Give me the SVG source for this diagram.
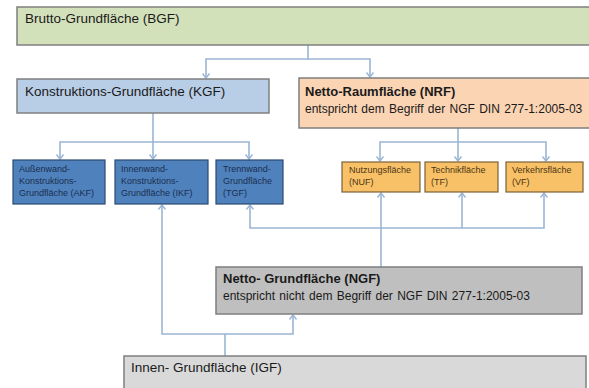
<svg xmlns="http://www.w3.org/2000/svg" width="589" height="388" viewBox="0 0 589 388">
<defs>
<style>
.t{font-family:"Liberation Sans",Arial,sans-serif;fill:#1a1a1a}
.big{font-size:13.5px}
.bold{font-size:13px;font-weight:bold}
.sub{font-size:12px;word-spacing:1px}
.sm{font-size:9px;fill:#1b2f4f}
.smo{font-size:9px;fill:#4a3514}
.box{stroke:#7f7f7f;stroke-width:1.5}
.bl{fill:#4f81bd;stroke:#2c4a70;stroke-width:1.2}
.or{fill:#f9c167;stroke:#7a6238;stroke-width:1.2}
.c{fill:none;stroke:#9ab6d4;stroke-width:1.6}
</style>
<marker id="a" viewBox="-6 -5 8 10" markerWidth="8" markerHeight="10" refX="0" refY="0" orient="auto" markerUnits="userSpaceOnUse">
<path d="M-4.5,-3.5 L0,0 L-4.5,3.5" fill="none" stroke="#9ab6d4" stroke-width="1.4"/>
</marker>
</defs>
<rect width="589" height="388" fill="#ffffff"/>
<g id="connectors">
<path class="c" d="M308,45 V59 H206 V78" marker-end="url(#a)"/>
<path class="c" d="M308,59 H370 V77" marker-end="url(#a)"/>
<path class="c" d="M153,113 V142 H60 V159" marker-end="url(#a)"/>
<path class="c" d="M153,142 V159" marker-end="url(#a)"/>
<path class="c" d="M153,142 H249 V159" marker-end="url(#a)"/>
<path class="c" d="M458,128 V142 H380 V161" marker-end="url(#a)"/>
<path class="c" d="M458,142 V161" marker-end="url(#a)"/>
<path class="c" d="M458,142 H546 V161" marker-end="url(#a)"/>
<path class="c" d="M381,267 V193" marker-end="url(#a)"/>
<path class="c" d="M381,228 H250 V205" marker-end="url(#a)"/>
<path class="c" d="M381,228 H462 V193" marker-end="url(#a)"/>
<path class="c" d="M462,228 H544 V193" marker-end="url(#a)"/>
<path class="c" d="M225,356 V334 H162 V205" marker-end="url(#a)"/>
<path class="c" d="M225,334 H293 V315" marker-end="url(#a)"/>
</g>
<g id="bgf">
<rect class="box" x="17" y="7" width="580" height="38" fill="#d3e1bb"/>
<text class="t big" x="25" y="23">Brutto-Grundfläche (BGF)</text>
</g>
<g id="kgf">
<rect class="box" x="17" y="79" width="252" height="34" fill="#b8cde6"/>
<text class="t big" x="25" y="96">Konstruktions-Grundfläche (KGF)</text>
</g>
<g id="nrf">
<rect class="box" x="299" y="78" width="298" height="50" fill="#fbd4b4"/>
<text class="t bold" x="305" y="96">Netto-Raumfläche (NRF)</text>
<text class="t sub" x="305" y="113">entspricht dem Begriff der NGF DIN 277-1:2005-03</text>
</g>
<g id="akf">
<rect class="bl" x="13" y="160" width="92" height="44"/>
<text class="t sm" x="19" y="172">Außenwand-</text>
<text class="t sm" x="19" y="184">Konstruktions-</text>
<text class="t sm" x="19" y="196">Grundfläche (AKF)</text>
</g>
<g id="ikf">
<rect class="bl" x="115" y="160" width="93" height="44"/>
<text class="t sm" x="121" y="172">Innenwand-</text>
<text class="t sm" x="121" y="184">Konstruktions-</text>
<text class="t sm" x="121" y="196">Grundfläche (IKF)</text>
</g>
<g id="tgf">
<rect class="bl" x="216" y="160" width="67" height="44"/>
<text class="t sm" x="223" y="172">Trennwand-</text>
<text class="t sm" x="223" y="184">Grundfläche</text>
<text class="t sm" x="223" y="196">(TGF)</text>
</g>
<g id="nuf">
<rect class="or" x="342" y="162" width="78" height="30"/>
<text class="t smo" x="349" y="173">Nutzungsfläche</text>
<text class="t smo" x="349" y="185">(NUF)</text>
</g>
<g id="tf">
<rect class="or" x="425" y="162" width="73" height="30"/>
<text class="t smo" x="431" y="173">Technikfläche</text>
<text class="t smo" x="431" y="185">(TF)</text>
</g>
<g id="vf">
<rect class="or" x="506" y="162" width="77" height="30"/>
<text class="t smo" x="512" y="173">Verkehrsfläche</text>
<text class="t smo" x="512" y="185">(VF)</text>
</g>
<g id="ngf">
<rect class="box" x="216" y="267" width="366" height="47" fill="#bfbfbf"/>
<text class="t bold" x="223" y="283">Netto- Grundfläche (NGF)</text>
<text class="t sub" x="223" y="300">entspricht nicht dem Begriff der NGF DIN 277-1:2005-03</text>
</g>
<g id="igf">
<rect class="box" x="124" y="356" width="462" height="40" fill="#d9d9d9"/>
<text class="t big" x="131" y="372">Innen- Grundfläche (IGF)</text>
</g>
</svg>
